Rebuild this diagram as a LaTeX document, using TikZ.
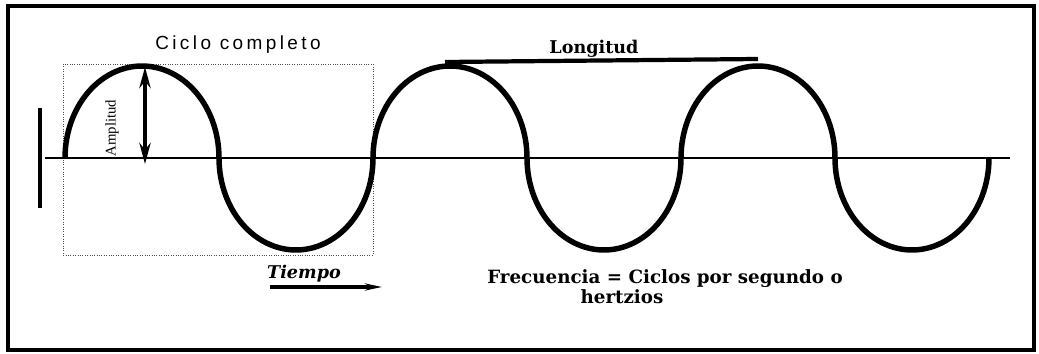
\documentclass[tikz,border=0pt]{standalone}
\usepackage{fontspec}
\setmainfont{Liberation Serif}
\setsansfont{Liberation Sans}
\newfontfamily\widesans[LetterSpace=18]{Liberation Sans}
\newfontfamily\boldserif{DejaVu Serif}
\usetikzlibrary{arrows.meta}

\begin{document}
\begin{tikzpicture}[x=0.025cm,y=-0.025cm,
  wave/.style={line width=3.9pt, line join=round},
  axisline/.style={line width=1.6pt},
  labelbold/.style={font=\boldserif\bfseries\fontsize{13}{15}\selectfont}]
\useasboundingbox (0,0) rectangle (1039,354);
\draw[line width=2.2pt] (8,6) rectangle (1034,350);
\draw[densely dotted, line width=0.7pt, black!70] (63,64) rectangle (373,255);

\draw[axisline] (45,158) -- (1010,158);
\draw[line width=2.4pt] (40,108) -- (40,208);

% half cycles of the wave
\foreach \c/\s in {142/1, 296/-1, 450/1, 604/-1, 758/1, 912/-1}
  \draw[wave] plot[domain=180:0, samples=60, variable=\t] ({\c+77*cos(\t)}, {158-\s*92*sin(\t)});

\node[font=\widesans\fontsize{13.5}{15}\selectfont] (ciclo) at (238,45) {Ciclo completo};

\node[font=\boldserif\bfseries\fontsize{12.5}{15}\selectfont] (longitud) at (594,49) {Longitud};
\coordinate (lona) at (445,62); \coordinate (lonb) at (758,59);
\draw[line width=3pt] (lona) -- (lonb);

\coordinate (amptop) at (145,67); \coordinate (ampbot) at (145,164);
\draw[{Stealth[length=15pt,width=8pt]}-{Stealth[length=15pt,width=8pt]}, line width=3.4pt] (amptop) -- (ampbot);
\node[rotate=90, font=\fontsize{10.5}{12}\selectfont] (amplitud) at (112,128) {Amplitud};

\node[font=\boldserif\bfseries\itshape\fontsize{12.5}{14}\selectfont] (tiempo) at (304,274) {Tiempo};
\coordinate (tiema) at (270,287); \coordinate (tiemb) at (382,287);
\draw[-{Stealth[length=12pt,width=5pt]}, line width=2.6pt] (tiema) -- (tiemb);

\node[labelbold] (frecuencia) at (665,279) {Frecuencia = Ciclos por segundo o};
\node[labelbold] (hertzios) at (622,297) {hertzios};
\end{tikzpicture}
\end{document}
